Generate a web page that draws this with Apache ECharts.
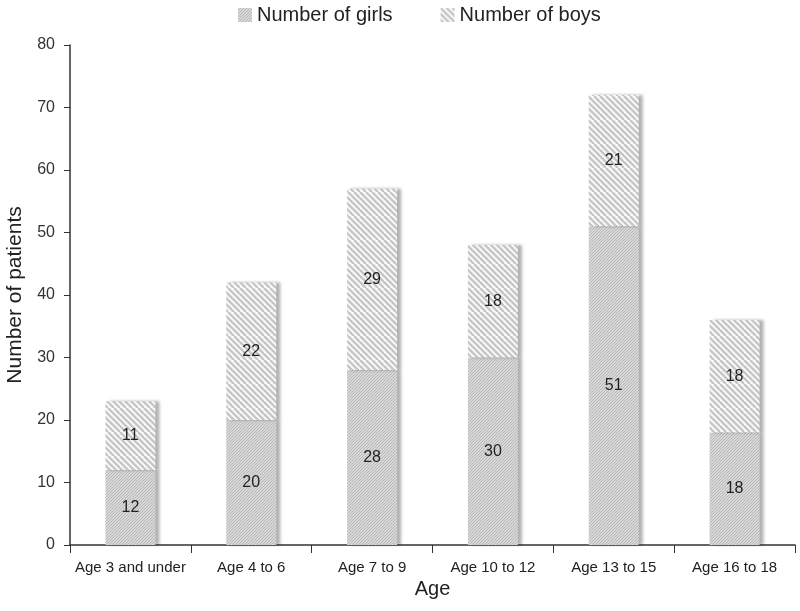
<!DOCTYPE html>
<html>
<head>
<meta charset="utf-8">
<script src="https://cdn.jsdelivr.net/npm/echarts@6/dist/echarts.min.js"></script>
<style>
html,body{margin:0;padding:0;background:#fff;}
#chart{width:800px;height:611px;}
</style>
</head>
<body>
<div id="chart"></div>
<script>
var categories = ['Age 3 and under', 'Age 4 to 6', 'Age 7 to 9', 'Age 10 to 12', 'Age 13 to 15', 'Age 16 to 18'];
var girls = [12, 20, 28, 30, 51, 18];
var boys = [11, 22, 29, 18, 21, 18];
var yTicks = [0, 80, 10];

function stripes(size, step, width, bg, fg, dir) {
  var c = document.createElement('canvas');
  c.width = size; c.height = size;
  var ctx = c.getContext('2d');
  ctx.fillStyle = bg; ctx.fillRect(0, 0, size, size);
  ctx.strokeStyle = fg; ctx.lineWidth = width;
  for (var x = -2 * size; x <= 2 * size; x += step) {
    ctx.beginPath();
    if (dir > 0) { ctx.moveTo(x, size); ctx.lineTo(x + size, 0); }
    else { ctx.moveTo(x, 0); ctx.lineTo(x + size, size); }
    ctx.stroke();
  }
  return c;
}
var girlsPat = { image: stripes(12, 3, 1, '#d8d8d8', '#b8b8b8', 1), repeat: 'repeat' };
var boysPat = { image: stripes(24, 6, 2.4, '#fbfbfb', '#c6c6c6', -1), repeat: 'repeat' };

var chart = echarts.init(document.getElementById('chart'), null, { renderer: 'canvas' });
var labelStyle = { show: true, position: 'inside', color: '#222', fontSize: 16, fontFamily: 'Liberation Sans, Arial, sans-serif' };
var shadow = { shadowColor: 'rgba(0,0,0,0.3)', shadowBlur: 3, shadowOffsetX: 4, shadowOffsetY: 0 };
chart.setOption({
  backgroundColor: '#fff',
  animation: false,
  textStyle: { fontFamily: 'Liberation Sans, Arial, sans-serif' },
  legend: {
    top: 0, left: 233, itemGap: 48, itemWidth: 14, itemHeight: 14,
    textStyle: { fontSize: 20, color: '#222' },
    data: [{ name: 'Number of girls', icon: 'rect' }, { name: 'Number of boys', icon: 'rect' }]
  },
  grid: { left: 70, right: 5, top: 45, bottom: 66, containLabel: false, outerBoundsMode: 'none' },
  xAxis: {
    type: 'category', data: categories,
    name: 'Age', nameLocation: 'middle', nameGap: 31,
    nameTextStyle: { fontSize: 20, color: '#222' },
    axisLine: { lineStyle: { color: '#333', width: 1.5 } },
    axisTick: { show: true, length: 8, lineStyle: { color: '#333' } },
    axisLabel: { fontSize: 15, color: '#222', margin: 15, interval: 0 }
  },
  yAxis: {
    type: 'value', min: yTicks[0], max: yTicks[1], interval: yTicks[2],
    name: 'Number of patients', nameLocation: 'middle', nameGap: 44,
    nameTextStyle: { fontSize: 21, color: '#222' },
    axisLine: { show: true, lineStyle: { color: '#333', width: 1.5 } },
    axisTick: { show: true, length: 6, lineStyle: { color: '#333' } },
    axisLabel: { fontSize: 16, color: '#333', margin: 15 },
    splitLine: { show: false }
  },
  series: [
    { name: 'Number of girls', type: 'bar', stack: 'total', data: girls, barWidth: 50,
      itemStyle: Object.assign({ color: girlsPat }, shadow), label: labelStyle },
    { name: 'Number of boys', type: 'bar', stack: 'total', data: boys, barWidth: 50,
      itemStyle: Object.assign({ color: boysPat }, shadow), label: labelStyle }
  ]
});
</script>
</body>
</html>
